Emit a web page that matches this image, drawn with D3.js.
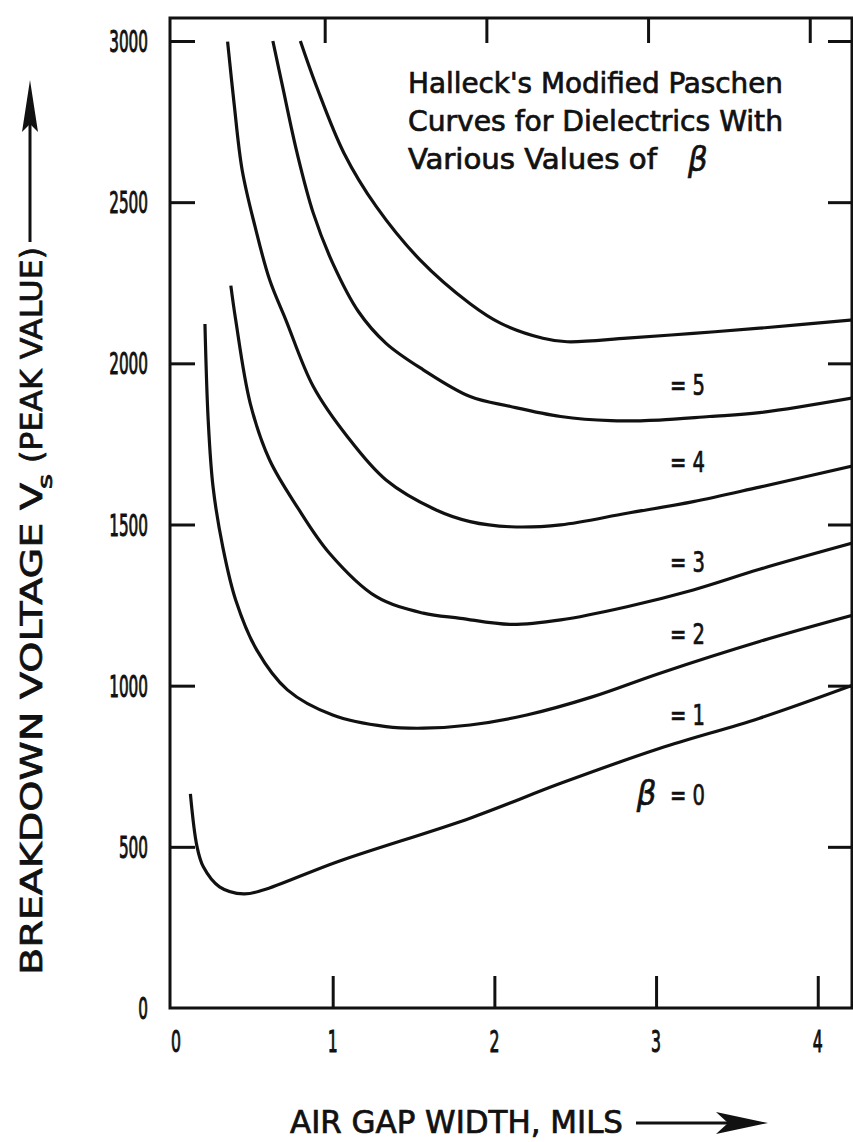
<!DOCTYPE html>
<html>
<head>
<meta charset="utf-8"/>
<title>Halleck's modified Paschen curves</title>
<style>
body { margin: 0; background: #fff; }
svg { display: block; }
.curve { fill: none; stroke: #111; stroke-width: 3.2; }
.frame { fill: none; stroke: #111; stroke-width: 3; }
.tick line { stroke: #111; stroke-width: 3; }
text {
  fill: #111;
  stroke: #111;
  stroke-width: 0.7;
  font-family: "DejaVu Sans Condensed", "DejaVu Sans", sans-serif;
}
.ticklabel { stroke-width: 1; }
</style>
</head>
<body>
<div id="chart"></div>
<script src="https://cdn.jsdelivr.net/npm/d3@7/dist/d3.min.js"></script>
<script>
// air gap (mils) vs breakdown voltage (peak volts)
const beta0 = [[0.12,664],[0.16,503],[0.20,438],[0.30,376],[0.45,354],[0.57,366],[1.03,454],
  [1.85,589],[2.41,697],[3.02,805],[3.64,899],[4.22,1002]];
const beta1 = [[0.21,2122],[0.23,1824],[0.26,1617],[0.32,1431],[0.40,1266],[0.53,1111],[0.72,987],
  [1.00,909],[1.33,873],[1.56,868],[1.85,878],[2.20,909],[2.61,966],[3.02,1038],[3.64,1137],[4.22,1219]];
const beta2 = [[0.37,2241],[0.40,2135],[0.49,1876],[0.61,1700],[0.78,1555],[0.98,1411],[1.27,1276],
  [1.56,1225],[1.79,1209],[2.10,1190],[2.41,1204],[2.82,1245],[3.23,1297],[3.64,1361],[4.22,1443]];
const beta3 = [[0.35,2998],[0.39,2807],[0.44,2600],[0.52,2424],[0.61,2259],[0.71,2135],[0.88,1928],
  [1.09,1773],[1.33,1638],[1.64,1545],[1.85,1509],[2.10,1493],[2.41,1499],[2.82,1535],[3.23,1571],
  [3.64,1616],[4.22,1682]];
const beta4 = [[0.63,3000],[0.69,2859],[0.78,2652],[0.88,2466],[1.00,2311],[1.16,2160],[1.33,2062],
  [1.56,1980],[1.85,1897],[2.10,1866],[2.41,1835],[2.72,1822],[3.02,1824],[3.33,1835],[3.64,1847],
  [4.22,1893]];
const beta5 = [[0.80,3000],[0.90,2859],[1.07,2652],[1.27,2486],[1.54,2321],[1.85,2185],[2.04,2124],
  [2.30,2078],[2.45,2067],[2.82,2078],[3.23,2093],[3.64,2109],[4.22,2135]];

const curves = [beta0, beta1, beta2, beta3, beta4, beta5];
const curveLabels = ["= 0", "= 1", "= 2", "= 3", "= 4", "= 5"];
const xTicks = [0, 1, 2, 3, 4];
const yTicks = [0, 500, 1000, 1500, 2000, 2500, 3000];
const titleLines = ["Halleck's Modified Paschen", "Curves for Dielectrics With", "Various Values of"];

const W = 853, H = 1142;
const plotLeft = 171, plotRight = 853, plotTop = 18, plotBottom = 1008;

const x = d3.scaleLinear().domain([0, 4.218]).range([plotLeft, plotRight]);
const y = d3.scaleLinear().domain([0, 3000]).range([plotBottom, 41]);

const svg = d3.select("#chart").append("svg")
    .attr("width", W)
    .attr("height", H);

// narrow lettering: squeeze to the widths measured on the scan
function squeezed(parent, str, px, py, size, len) {
  return parent.append("text")
      .attr("x", px)
      .attr("y", py)
      .attr("font-size", size)
      .attr("textLength", len)
      .attr("lengthAdjust", "spacingAndGlyphs")
      .text(str);
}

// frame
svg.append("path")
    .attr("class", "frame")
    .attr("d", `M${plotRight},${plotTop} H${plotLeft - 1} V${plotBottom} H${plotRight}`);
svg.append("line")
    .attr("class", "frame")
    .attr("stroke-width", 2)
    .attr("x1", plotRight - 1).attr("x2", plotRight - 1)
    .attr("y1", plotTop).attr("y2", plotBottom);

// inward ticks on all four sides
const innerX = xTicks.filter(d => d > 0);
const innerY = yTicks.filter(d => d > 0);
svg.append("g").attr("transform", `translate(0,${plotBottom})`)
    .call(d3.axisBottom(x).tickValues(innerX).tickSize(-32).tickFormat(""))
    .call(g => g.select(".domain").remove());
svg.append("g").attr("transform", `translate(-8,${plotTop})`)
    .call(d3.axisTop(x).tickValues(innerX).tickSize(-25).tickFormat(""))
    .call(g => g.select(".domain").remove());
svg.append("g").attr("transform", `translate(${plotLeft - 1},0)`)
    .call(d3.axisLeft(y).tickValues(innerY).tickSize(-25).tickFormat(""))
    .call(g => g.select(".domain").remove());
svg.append("g").attr("transform", `translate(${plotRight},0)`)
    .call(d3.axisRight(y).tickValues(innerY).tickSize(-25).tickFormat(""))
    .call(g => g.select(".domain").remove());

// tick labels
yTicks.forEach(v => {
  const s = String(v), len = 9.7 * s.length;
  squeezed(svg, s, 148 - len, y(v) + 11, 31, len).attr("class", "ticklabel");
});
xTicks.forEach(v => {
  squeezed(svg, String(v), x(v) - 5 + (v === 0 ? 5 : 0), 1052, 31, 10).attr("class", "ticklabel");
});

// curves
const line = d3.line()
    .x(d => x(d[0]))
    .y(d => y(d[1]))
    .curve(d3.curveCatmullRom.alpha(0.5));

svg.selectAll(".curve")
    .data(curves)
    .enter()
    .append("path")
    .attr("class", "curve")
    .attr("d", line);

// curve labels, just under each curve on the right
const labelBase = [630, 878, 1129, 1353, 1663, 1902];
curveLabels.forEach((t, i) => {
  squeezed(svg, t, x(3.086), y(labelBase[i]), 29, 35);
});
svg.append("text")
    .attr("x", x(2.88))
    .attr("y", y(labelBase[0]))
    .attr("font-size", 34)
    .attr("font-style", "italic")
    .text("β");

// annotation block
squeezed(svg, titleLines[0], 408, 93, 29, 375);
squeezed(svg, titleLines[1], 408, 131, 29, 375);
squeezed(svg, titleLines[2], 408, 169, 29, 249);
svg.append("text")
    .attr("x", 688)
    .attr("y", 171)
    .attr("font-size", 34)
    .attr("font-style", "italic")
    .text("β");

// x axis title + arrow
squeezed(svg, "AIR GAP WIDTH, MILS", 290, 1133, 32, 333);
svg.append("line")
    .attr("x1", 636).attr("x2", 735)
    .attr("y1", 1123).attr("y2", 1123)
    .attr("stroke", "#111").attr("stroke-width", 3);
svg.append("path")
    .attr("d", "M768,1123 L716,1112 L728,1123 L716,1134 Z")
    .attr("fill", "#111");

// y axis title + arrow
const yt = svg.append("g").attr("transform", "translate(42,975) rotate(-90)");
squeezed(yt, "BREAKDOWN VOLTAGE V", 0, 0, 31, 492);
squeezed(yt, "s", 486, 10, 20, 15);
squeezed(yt, "(PEAK VALUE)", 512, 0, 31, 216);
svg.append("line")
    .attr("x1", 30).attr("x2", 30)
    .attr("y1", 242).attr("y2", 120)
    .attr("stroke", "#111").attr("stroke-width", 3);
svg.append("path")
    .attr("d", "M30,80 L22,132 L30,124 L38,132 Z")
    .attr("fill", "#111");
</script>
</body>
</html>
